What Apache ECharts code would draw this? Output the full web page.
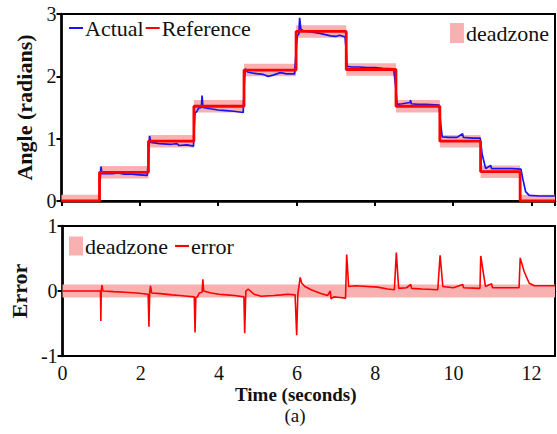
<!DOCTYPE html>
<html>
<head>
<meta charset="utf-8">
<title>Angle tracking</title>
<script src="https://cdn.jsdelivr.net/npm/echarts@6/dist/echarts.min.js"></script>
<style>
html, body { margin: 0; padding: 0; background: #fff; }
#chart { width: 557px; height: 434px; }
</style>
</head>
<body>
<div id="chart"></div>
<script>
// time axis
var X_MAX = 12.6;

// reference steps: level i starts at stepTimes[i]
var stepTimes = [0, 0.97, 2.22, 3.38, 4.66, 5.99, 7.27, 8.54, 9.66, 10.70, 11.71];
var refLevels = [0, 0.46, 0.96, 1.52, 2.10, 2.72, 2.11, 1.52, 0.96, 0.47, 0];

// half width of the deadzone bands
var DEADZONE = 0.1;
var ERR_DEADZONE = 0.1;

// measured angle [t, rad]
var actual = [
  [0, 0], [0.97, 0], [0.98, 0.30], [1.01, 0.55], [1.03, 0.44], [1.3, 0.44], [1.45, 0.45], [1.6, 0.43],
  [1.8, 0.43], [2.0, 0.42], [2.19, 0.41],
  [2.21, 0.6], [2.25, 1.04], [2.28, 0.94], [2.5, 0.92], [2.8, 0.91], [2.95, 0.92], [3.0, 0.89],
  [3.2, 0.90], [3.37, 0.88],
  [3.39, 1.2], [3.41, 1.42], [3.45, 1.43], [3.5, 1.49], [3.57, 1.50], [3.59, 1.69], [3.61, 1.50],
  [3.8, 1.48], [4.0, 1.46], [4.2, 1.45], [4.4, 1.44], [4.64, 1.42],
  [4.66, 1.8], [4.69, 2.12], [4.75, 2.07], [4.9, 2.05], [5.15, 2.03], [5.28, 2.0], [5.4, 2.02],
  [5.59, 2.06], [5.75, 2.04], [5.95, 2.04],
  [5.99, 2.4], [6.02, 2.65], [6.06, 2.68], [6.08, 2.94], [6.11, 2.76], [6.18, 2.73], [6.4, 2.71],
  [6.6, 2.69], [6.87, 2.65], [7.0, 2.64], [7.1, 2.66], [7.24, 2.63],
  [7.27, 2.4], [7.29, 2.16], [7.4, 2.15], [7.6, 2.15], [7.8, 2.14], [8.0, 2.14], [8.2, 2.13], [8.48, 2.12],
  [8.53, 1.85], [8.57, 1.55], [8.7, 1.56], [8.9, 1.58], [8.91, 1.62], [8.93, 1.56], [9.1, 1.55],
  [9.3, 1.55], [9.64, 1.54],
  [9.68, 1.25], [9.72, 1.03], [9.9, 1.02], [10.1, 1.02], [10.24, 1.08], [10.26, 1.02], [10.5, 1.01],
  [10.69, 1.01],
  [10.74, 0.75], [10.83, 0.52], [10.96, 0.57], [10.98, 0.52], [11.2, 0.52], [11.5, 0.52], [11.73, 0.51],
  [11.78, 0.35], [11.85, 0.15], [11.94, 0.09], [12.2, 0.08], [12.6, 0.08]
];

// tracking error [t, rad]
var error = [
  [0, 0], [0.97, 0], [0.98, -0.46], [0.99, 0], [1.01, 0.09], [1.03, 0], [1.3, -0.01], [1.6, -0.02],
  [1.9, -0.03], [2.19, -0.05],
  [2.21, -0.55], [2.23, -0.02], [2.25, 0.08], [2.28, -0.03], [2.5, -0.04], [2.8, -0.06], [3.0, -0.07],
  [3.2, -0.08], [3.37, -0.09],
  [3.39, -0.64], [3.41, -0.1], [3.45, -0.09], [3.5, -0.03], [3.57, -0.02], [3.59, 0.18], [3.61, 0.0],
  [3.8, -0.03], [4.0, -0.05], [4.2, -0.06], [4.4, -0.07], [4.64, -0.09],
  [4.66, -0.65], [4.69, 0.0], [4.75, 0.03], [4.9, -0.05], [5.08, -0.08], [5.4, -0.07], [5.6, -0.06],
  [5.76, -0.05], [5.95, -0.06],
  [5.99, -0.68], [6.02, -0.05], [6.08, 0.21], [6.12, 0.12], [6.2, 0.07], [6.36, 0.02], [6.61, -0.04],
  [6.78, -0.07], [6.85, 0.0], [6.87, -0.12], [6.94, -0.09], [7.1, -0.1], [7.24, -0.11],
  [7.27, 0.56], [7.32, 0.07], [7.5, 0.08], [7.8, 0.07], [8.06, 0.06], [8.32, 0.03], [8.49, 0.02],
  [8.54, 0.59], [8.6, 0.04], [8.8, 0.05], [8.91, 0.1], [8.93, 0.04], [9.2, 0.03], [9.6, 0.02],
  [9.66, 0.55], [9.73, 0.07], [10.0, 0.05], [10.24, 0.1], [10.26, 0.05], [10.68, 0.04],
  [10.70, 0.54], [10.82, 0.07], [10.98, 0.11], [11.0, 0.05], [11.4, 0.05], [11.68, 0.05],
  [11.71, 0.51], [11.81, 0.3], [11.94, 0.12], [12.07, 0.08], [12.6, 0.08]
];

var FONT = '"Liberation Serif", "Times New Roman", serif';
var PINK = '#F9B0B0';
var RED = '#FF0000';
var BLUE = '#1414F5';

var refData = stepTimes.map(function(t, i) { return [t, refLevels[i]]; });
refData.push([X_MAX, refLevels[refLevels.length - 1]]);

var bandTop = stepTimes.map(function(t, i) {
  var t1 = i + 1 < stepTimes.length ? stepTimes[i + 1] : X_MAX;
  return [t, t1, refLevels[i] - DEADZONE, refLevels[i] + DEADZONE];
});
var bandErr = [[0, X_MAX, -ERR_DEADZONE, ERR_DEADZONE]];

function bandItem(params, api) {
  var p0 = api.coord([api.value(0), api.value(3)]);
  var p1 = api.coord([api.value(1), api.value(2)]);
  var cs = params.coordSys;
  var shape = echarts.graphic.clipRectByRect(
    { x: p0[0], y: p0[1], width: p1[0] - p0[0], height: p1[1] - p0[1] },
    { x: cs.x, y: cs.y, width: cs.width, height: cs.height });
  return shape && { type: 'rect', shape: shape, style: { fill: api.visual('color') } };
}

function xAxis(grid, labels) {
  return {
    type: 'value', gridIndex: grid, min: 0, max: X_MAX, interval: 2,
    axisLine: { lineStyle: { color: '#000', width: 2.5 } },
    axisTick: { show: true, length: 5, lineStyle: { color: '#000', width: 2 } },
    axisLabel: { show: labels, margin: 7, fontSize: 20, color: '#111', fontFamily: FONT, showMaxLabel: false },
    splitLine: { show: false },
    name: labels ? 'Time (seconds)' : '',
    nameLocation: 'middle', nameGap: 29,
    nameTextStyle: { fontSize: 19, fontWeight: 'bold', color: '#111', fontFamily: FONT, padding: [0, 26, 0, 0] }
  };
}

function yAxis(grid, min, max, name) {
  return {
    type: 'value', gridIndex: grid, min: min, max: max, interval: 1,
    axisLine: { show: true, lineStyle: { color: '#000', width: 2.5 } },
    axisTick: { show: true, length: 5, lineStyle: { color: '#000', width: 2 } },
    axisLabel: { margin: 5, fontSize: 20, color: '#111', fontFamily: FONT },
    splitLine: { show: false },
    name: name, nameLocation: 'middle', nameGap: 20,
    nameTextStyle: { fontSize: 22, fontWeight: 'bold', color: '#111', fontFamily: FONT }
  };
}

var legendText = { fontSize: 22, color: '#111', fontFamily: FONT, padding: [0, 0, 0, -3] };

var chart = echarts.init(document.getElementById('chart'), null, { renderer: 'svg' });
chart.setOption({
  animation: false,
  textStyle: { fontFamily: FONT },
  title: {
    text: '(a)', left: 295, top: 406, textAlign: 'center', padding: 0,
    textStyle: { fontSize: 19, fontWeight: 'normal', color: '#111', fontFamily: FONT }
  },
  grid: [
    { left: 61.5, right: 2, top: 14, height: 187, show: true, borderColor: '#000', borderWidth: 2 },
    { left: 61.5, right: 2, top: 226, height: 130, show: true, borderColor: '#000', borderWidth: 2 }
  ],
  legend: [
    {
      data: ['Actual', 'Reference'], left: 69, top: 17, padding: 0, itemGap: 2,
      icon: 'rect', itemWidth: 14, itemHeight: 2,
      textStyle: legendText
    },
    {
      data: ['deadzone'], right: 8, top: 22, padding: 0,
      icon: 'rect', itemWidth: 14, itemHeight: 20,
      textStyle: legendText
    },
    {
      data: [{ name: 'deadzone', icon: 'rect' }, { name: 'error', icon: 'path://M0,0H13V2H0Z' }],
      left: 69, top: 235, padding: 0, itemGap: 7,
      itemWidth: 14, itemHeight: 19,
      textStyle: legendText
    }
  ],
  xAxis: [xAxis(0, false), xAxis(1, true)],
  yAxis: [yAxis(0, 0, 3, 'Angle (radians)'), yAxis(1, -1, 1, 'Error')],
  series: [
    {
      name: 'deadzone', type: 'custom', xAxisIndex: 0, yAxisIndex: 0,
      renderItem: bandItem, encode: { x: [0, 1], y: [2, 3] },
      itemStyle: { color: PINK }, data: bandTop, z: 1
    },
    {
      name: 'Actual', type: 'line', xAxisIndex: 0, yAxisIndex: 0,
      showSymbol: false, data: actual, z: 2,
      itemStyle: { color: BLUE }, lineStyle: { color: BLUE, width: 1.7 }
    },
    {
      name: 'Reference', type: 'line', xAxisIndex: 0, yAxisIndex: 0, step: 'end',
      showSymbol: false, data: refData, z: 3,
      itemStyle: { color: RED }, lineStyle: { color: RED, width: 2.8 }
    },
    {
      name: 'deadzone', type: 'custom', xAxisIndex: 1, yAxisIndex: 1,
      renderItem: bandItem, encode: { x: [0, 1], y: [2, 3] },
      itemStyle: { color: PINK }, data: bandErr, z: 1
    },
    {
      name: 'error', type: 'line', xAxisIndex: 1, yAxisIndex: 1,
      showSymbol: false, data: error, z: 2,
      itemStyle: { color: RED }, lineStyle: { color: RED, width: 1.6 }
    }
  ]
});
</script>
</body>
</html>
